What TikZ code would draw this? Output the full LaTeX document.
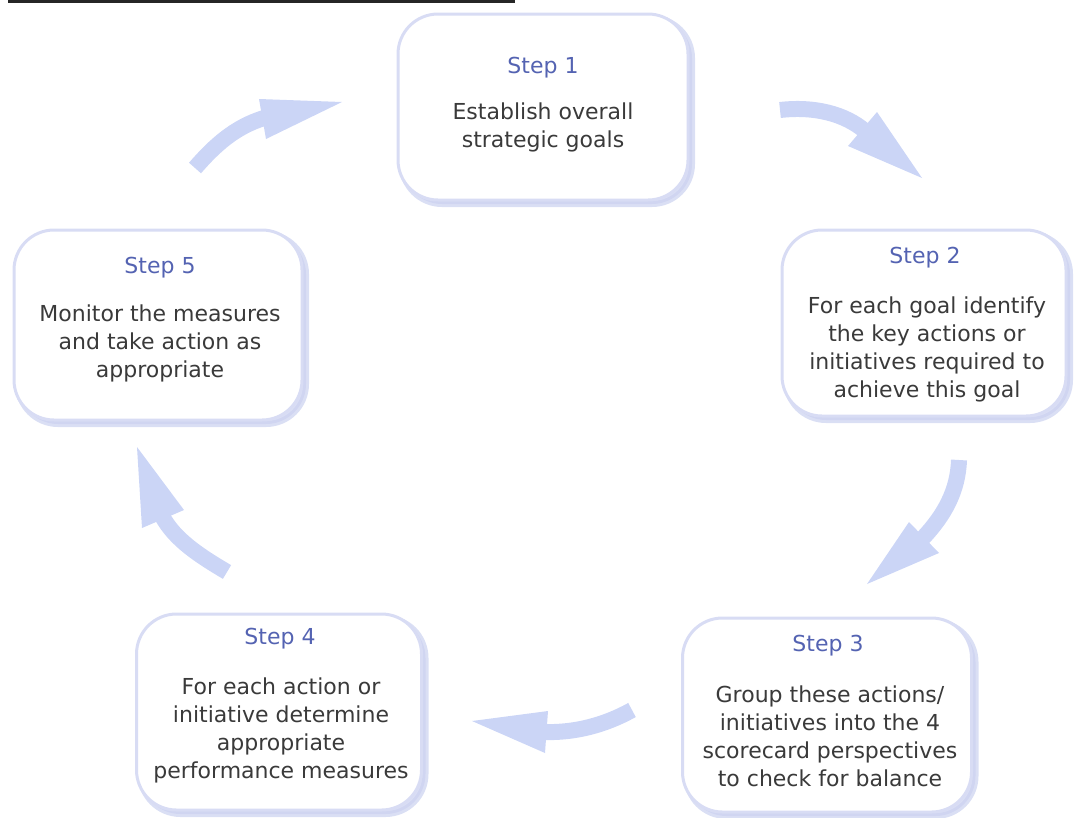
\documentclass[tikz,border=0pt]{standalone}
\usepackage{fontspec}
\setmainfont{DejaVu Sans}
\definecolor{boxline}{HTML}{D8DCF4}
\definecolor{boxshade}{HTML}{CBD1F0}
\definecolor{flow}{HTML}{CBD5F6}
\definecolor{titleblue}{HTML}{5463B2}
\definecolor{bodytext}{HTML}{3A3A3A}
\begin{document}
\begin{tikzpicture}[x=1pt,y=-1pt,
  stepbox/.style={draw=boxline, line width=3pt, fill=white, rounded corners=40pt, inner sep=0pt},
  shadebox/.style={draw=boxshade, line width=6pt, fill=boxshade, rounded corners=40pt, inner sep=0pt, opacity=0.7},
  steptitle/.style={font=\fontsize{22}{28}\selectfont, text=titleblue, inner sep=0pt},
  stepbody/.style={font=\fontsize{22}{28}\selectfont, text=bodytext, align=center, inner sep=0pt},
  shaft/.style={draw=flow, line width=16pt},
  head/.style={fill=flow}]
\useasboundingbox (0,0) rectangle (1075,817);

% strip along the top edge
\fill[black!85] (8,0) rectangle (515,3);

% soft shadows under the cards
\node[shadebox, minimum width=290pt, minimum height=186pt] (sh1) at (547,111) {};
\node[shadebox, minimum width=284pt, minimum height=186pt] (sh2) at (928,327) {};
\node[shadebox, minimum width=289pt, minimum height=194pt] (sh3) at (831,719) {};
\node[shadebox, minimum width=285pt, minimum height=196pt] (sh4) at (283,716) {};
\node[shadebox, minimum width=288pt, minimum height=190pt] (sh5) at (162,329) {};

% the five cards
\node[stepbox, minimum width=290pt, minimum height=186pt] (s1) at (543,107) {};
\node[stepbox, minimum width=284pt, minimum height=186pt] (s2) at (924,323) {};
\node[stepbox, minimum width=289pt, minimum height=194pt] (s3) at (827,715) {};
\node[stepbox, minimum width=285pt, minimum height=196pt] (s4) at (279,712) {};
\node[stepbox, minimum width=288pt, minimum height=190pt] (s5) at (158,325) {};

% card texts
\node[steptitle] (t1) at (543,68) {Step 1};
\node[stepbody] (b1) at (543,127) {Establish overall\\strategic goals};
\node[steptitle] (t2) at (925,258) {Step 2};
\node[stepbody] (b2) at (927,349) {For each goal identify\\the key actions or\\initiatives required to\\achieve this goal};
\node[steptitle] (t3) at (828,646) {Step 3};
\node[stepbody] (b3) at (830,736) {Group these actions/\\initiatives into the 4\\scorecard perspectives\\to check for balance};
\node[steptitle] (t4) at (280,639) {Step 4};
\node[stepbody] (b4) at (281,730) {For each action or\\initiative determine\\appropriate\\performance measures};
\node[steptitle] (t5) at (160,268) {Step 5};
\node[stepbody] (b5) at (160,343) {Monitor the measures\\and take action as\\appropriate};

% curved block arrows between the cards
\coordinate (a1s) at (780,110);
\coordinate (a1b) at (865,131);
\draw[shaft] (a1s) .. controls (815,106) and (845,114) .. (a1b);
\fill[head] (877,112) -- (922,178) -- (848,146) -- cycle;

\coordinate (a2s) at (959,460);
\coordinate (a2b) at (922,539);
\draw[shaft] (a2s) .. controls (958,490) and (945,515) .. (a2b);
\fill[head] (909,522) -- (939,553) -- (867,584) -- cycle;

\coordinate (a3s) at (632,710);
\coordinate (a3b) at (544,732);
\draw[shaft] (a3s) .. controls (605,725) and (575,733) .. (a3b);
\fill[head] (548,711) -- (545,753) -- (472,721) -- cycle;

\coordinate (a4s) at (227,572);
\coordinate (a4b) at (162,516);
\draw[shaft] (a4s) .. controls (200,556) and (175,540) .. (a4b);
\fill[head] (142,528) -- (184,510) -- (137,447) -- cycle;

\coordinate (a5s) at (195,168);
\coordinate (a5b) at (264,118);
\draw[shaft] (a5s) .. controls (215,145) and (235,127) .. (a5b);
\fill[head] (259,99) -- (266,139) -- (342,102) -- cycle;
\end{tikzpicture}
\end{document}
